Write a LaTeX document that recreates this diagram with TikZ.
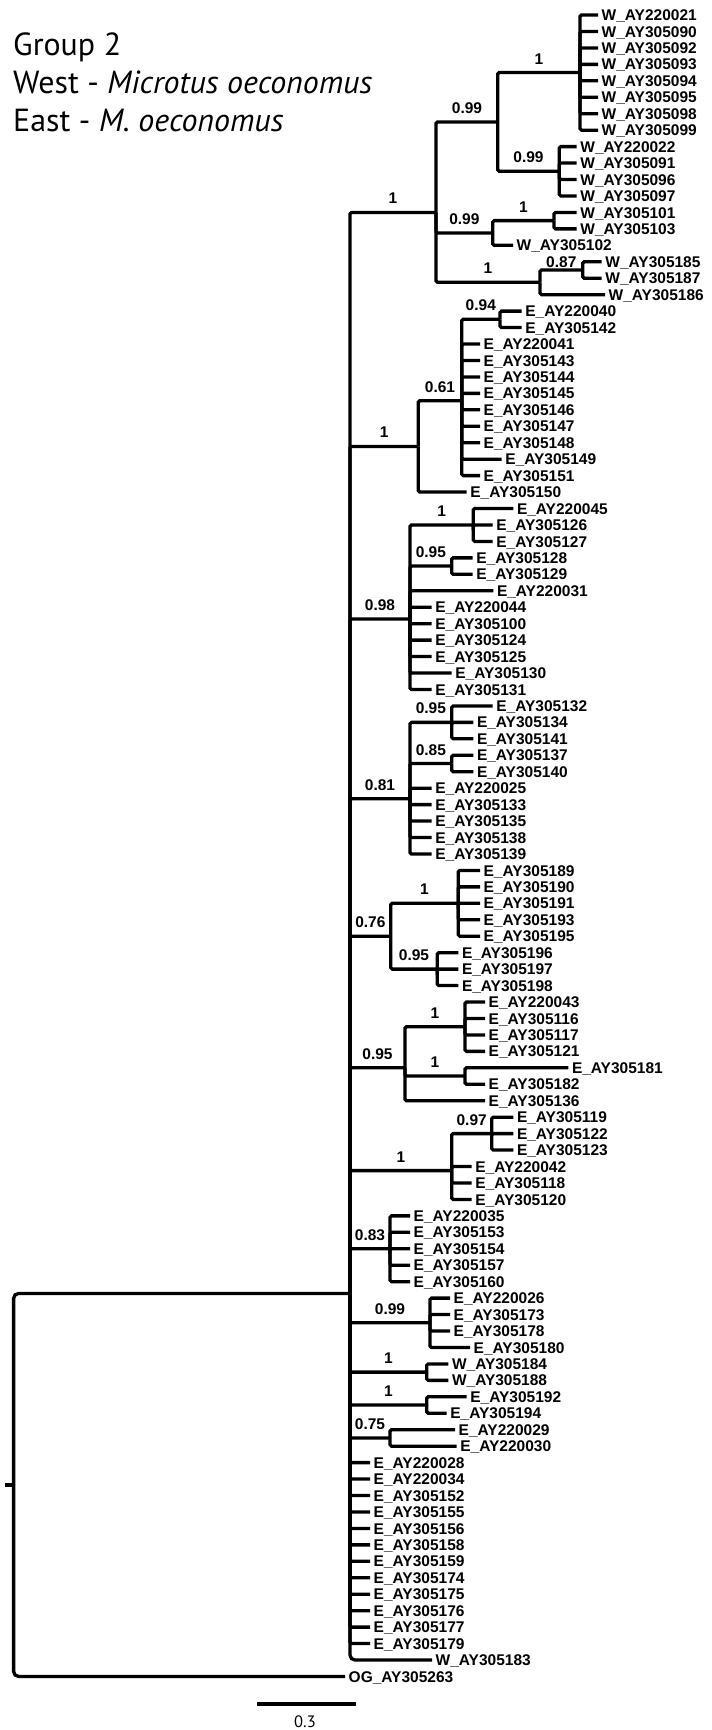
\documentclass[tikz,border=0pt]{standalone}
\usepackage{fontspec}
\newfontfamily\labfont{Liberation Sans}
\newfontfamily\titfont{PT Sans}
\newlength\twid
\tikzset{
 br/.style={line width=3.3pt, rounded corners=1.5pt},
 leaf/.style={anchor=west, inner xsep=3.5pt, inner ysep=0pt, text height=11.2pt, text depth=0pt, font=\labfont\bfseries\fontsize{15.5}{15.5}\selectfont},
 sup/.style={inner sep=0pt, text height=11pt, text depth=0pt, font=\labfont\bfseries\fontsize{15.5}{15.5}\selectfont},
 ttl/.style={anchor=base west, inner sep=0pt, font=\titfont\fontsize{\tfs}{\tfs}\selectfont},
}
\newcommand\Yl[1]{15+(#1-1)*16.45}
\newcommand\Lf[4]{\node[leaf] (#1) at (#2,{\Yl{#3}}) {#4};}
\newcommand\Sup[4]{\node[sup] (#1) at (#2,#3) {#4};}
\begin{document}
\settowidth\twid{\titfont\fontsize{30}{30}\selectfont West - \textit{Microtus oeconomus}}
\pgfmathsetmacro\tfs{30*359/\twid}
\begin{tikzpicture}[x=1pt,y=-1pt]
\useasboundingbox[fill=white] (0,0) rectangle (712,1730);
% title
\node[ttl] (t1) at (13,55) {Group 2};
\node[ttl] (t2) at (13,93) {West - \textit{Microtus oeconomus}};
\node[ttl] (t3) at (13,131) {East - \textit{M. oeconomus}};
% internal nodes
\coordinate (nA) at (580,72.575);
\coordinate (nB) at (559.3,171.275);
\coordinate (nC) at (497.7,121.925);
\coordinate (nE) at (554,220.625);
\coordinate (nD) at (492.7,232.96);
\coordinate (nF) at (582.7,269.975);
\coordinate (nG) at (540,282.31);
\coordinate (nH) at (436,212.4);
\coordinate (nI) at (500,319.325);
\coordinate (nJ) at (461.7,400.75);
\coordinate (nK) at (418.3,446.4);
\coordinate (nL) at (473.3,524.95);
\coordinate (nM) at (451.7,566.075);
\coordinate (nN) at (410,619.08);
\coordinate (nO) at (451.7,722.35);
\coordinate (nP) at (451.7,763.475);
\coordinate (nQ) at (410,798.73);
\coordinate (nR) at (458.3,903.3);
\coordinate (nS) at (437.3,969.1);
\coordinate (nT) at (390.7,936.2);
\coordinate (nU) at (465,1026.675);
\coordinate (nV) at (465,1076.025);
\coordinate (nW) at (405,1067.8);
\coordinate (nX) at (491.7,1133.6);
\coordinate (nY) at (451.7,1170.6);
\coordinate (nZ) at (390,1248.75);
\coordinate (nAD) at (430,1322.8);
\coordinate (nAA) at (426.7,1372.1);
\coordinate (nAB) at (426.7,1405.0);
\coordinate (nAC) at (390,1437.9);
\coordinate (nIn) at (350,1293.4);
\coordinate (root) at (13.6,1484.9);
\coordinate (rstub) at (5,1484.9);
% leaves
\Lf{L1}{598}{1}{W\_AY220021}
\Lf{L2}{598}{2}{W\_AY305090}
\Lf{L3}{598}{3}{W\_AY305092}
\Lf{L4}{598}{4}{W\_AY305093}
\Lf{L5}{598}{5}{W\_AY305094}
\Lf{L6}{598}{6}{W\_AY305095}
\Lf{L7}{598}{7}{W\_AY305098}
\Lf{L8}{598}{8}{W\_AY305099}
\Lf{L9}{576.7}{9}{W\_AY220022}
\Lf{L10}{576.7}{10}{W\_AY305091}
\Lf{L11}{576.7}{11}{W\_AY305096}
\Lf{L12}{576.7}{12}{W\_AY305097}
\Lf{L13}{576.7}{13}{W\_AY305101}
\Lf{L14}{576.7}{14}{W\_AY305103}
\Lf{L15}{513}{15}{W\_AY305102}
\Lf{L16}{601.7}{16}{W\_AY305185}
\Lf{L17}{601.7}{17}{W\_AY305187}
\Lf{L18}{605}{18}{W\_AY305186}
\Lf{L19}{521.7}{19}{E\_AY220040}
\Lf{L20}{521.7}{20}{E\_AY305142}
\Lf{L21}{480}{21}{E\_AY220041}
\Lf{L22}{480}{22}{E\_AY305143}
\Lf{L23}{480}{23}{E\_AY305144}
\Lf{L24}{480}{24}{E\_AY305145}
\Lf{L25}{480}{25}{E\_AY305146}
\Lf{L26}{480}{26}{E\_AY305147}
\Lf{L27}{480}{27}{E\_AY305148}
\Lf{L28}{501.7}{28}{E\_AY305149}
\Lf{L29}{480}{29}{E\_AY305151}
\Lf{L30}{466.7}{30}{E\_AY305150}
\Lf{L31}{513.3}{31}{E\_AY220045}
\Lf{L32}{492.7}{32}{E\_AY305126}
\Lf{L33}{492.7}{33}{E\_AY305127}
\Lf{L34}{472.7}{34}{E\_AY305128}
\Lf{L35}{472.7}{35}{E\_AY305129}
\Lf{L36}{493.3}{36}{E\_AY220031}
\Lf{L37}{431.7}{37}{E\_AY220044}
\Lf{L38}{431.7}{38}{E\_AY305100}
\Lf{L39}{431.7}{39}{E\_AY305124}
\Lf{L40}{431.7}{40}{E\_AY305125}
\Lf{L41}{451.7}{41}{E\_AY305130}
\Lf{L42}{431.7}{42}{E\_AY305131}
\Lf{L43}{492.7}{43}{E\_AY305132}
\Lf{L44}{473.3}{44}{E\_AY305134}
\Lf{L45}{473.3}{45}{E\_AY305141}
\Lf{L46}{473.3}{46}{E\_AY305137}
\Lf{L47}{473.3}{47}{E\_AY305140}
\Lf{L48}{431.7}{48}{E\_AY220025}
\Lf{L49}{431.7}{49}{E\_AY305133}
\Lf{L50}{431.7}{50}{E\_AY305135}
\Lf{L51}{431.7}{51}{E\_AY305138}
\Lf{L52}{431.7}{52}{E\_AY305139}
\Lf{L53}{480}{53}{E\_AY305189}
\Lf{L54}{480}{54}{E\_AY305190}
\Lf{L55}{480}{55}{E\_AY305191}
\Lf{L56}{480}{56}{E\_AY305193}
\Lf{L57}{480}{57}{E\_AY305195}
\Lf{L58}{458.3}{58}{E\_AY305196}
\Lf{L59}{458.3}{59}{E\_AY305197}
\Lf{L60}{458.3}{60}{E\_AY305198}
\Lf{L61}{485}{61}{E\_AY220043}
\Lf{L62}{485}{62}{E\_AY305116}
\Lf{L63}{485}{63}{E\_AY305117}
\Lf{L64}{485}{64}{E\_AY305121}
\Lf{L65}{568.3}{65}{E\_AY305181}
\Lf{L66}{485}{66}{E\_AY305182}
\Lf{L67}{485}{67}{E\_AY305136}
\Lf{L68}{513.3}{68}{E\_AY305119}
\Lf{L69}{513.3}{69}{E\_AY305122}
\Lf{L70}{513.3}{70}{E\_AY305123}
\Lf{L71}{471.7}{71}{E\_AY220042}
\Lf{L72}{471.7}{72}{E\_AY305118}
\Lf{L73}{471.7}{73}{E\_AY305120}
\Lf{L74}{410}{74}{E\_AY220035}
\Lf{L75}{410}{75}{E\_AY305153}
\Lf{L76}{410}{76}{E\_AY305154}
\Lf{L77}{410}{77}{E\_AY305157}
\Lf{L78}{410}{78}{E\_AY305160}
\Lf{L79}{450}{79}{E\_AY220026}
\Lf{L80}{450}{80}{E\_AY305173}
\Lf{L81}{450}{81}{E\_AY305178}
\Lf{L82}{470}{82}{E\_AY305180}
\Lf{L83}{448.3}{83}{W\_AY305184}
\Lf{L84}{448.3}{84}{W\_AY305188}
\Lf{L85}{466.7}{85}{E\_AY305192}
\Lf{L86}{446.7}{86}{E\_AY305194}
\Lf{L87}{455}{87}{E\_AY220029}
\Lf{L88}{456.7}{88}{E\_AY220030}
\Lf{L89}{370}{89}{E\_AY220028}
\Lf{L90}{370}{90}{E\_AY220034}
\Lf{L91}{370}{91}{E\_AY305152}
\Lf{L92}{370}{92}{E\_AY305155}
\Lf{L93}{370}{93}{E\_AY305156}
\Lf{L94}{370}{94}{E\_AY305158}
\Lf{L95}{370}{95}{E\_AY305159}
\Lf{L96}{370}{96}{E\_AY305174}
\Lf{L97}{370}{97}{E\_AY305175}
\Lf{L98}{370}{98}{E\_AY305176}
\Lf{L99}{370}{99}{E\_AY305177}
\Lf{L100}{370}{100}{E\_AY305179}
\Lf{L101}{432}{101}{W\_AY305183}
\Lf{L102}{345}{102}{OG\_AY305263}
% branches to leaves
\foreach \i in {1,...,8} {\draw[br] (nA) |- (L\i.west);}
\foreach \i in {9,...,12} {\draw[br] (nB) |- (L\i.west);}
\foreach \i in {13,14} {\draw[br] (nE) |- (L\i.west);}
\draw[br] (nD) |- (L15.west);
\foreach \i in {16,17} {\draw[br] (nF) |- (L\i.west);}
\draw[br] (nG) |- (L18.west);
\foreach \i in {19,20} {\draw[br] (nI) |- (L\i.west);}
\foreach \i in {21,...,29} {\draw[br] (nJ) |- (L\i.west);}
\draw[br] (nK) |- (L30.west);
\foreach \i in {31,32,33} {\draw[br] (nL) |- (L\i.west);}
\foreach \i in {34,35} {\draw[br] (nM) |- (L\i.west);}
\foreach \i in {36,...,42} {\draw[br] (nN) |- (L\i.west);}
\foreach \i in {43,44,45} {\draw[br] (nO) |- (L\i.west);}
\foreach \i in {46,47} {\draw[br] (nP) |- (L\i.west);}
\foreach \i in {48,...,52} {\draw[br] (nQ) |- (L\i.west);}
\foreach \i in {53,...,57} {\draw[br] (nR) |- (L\i.west);}
\foreach \i in {58,59,60} {\draw[br] (nS) |- (L\i.west);}
\foreach \i in {61,...,64} {\draw[br] (nU) |- (L\i.west);}
\foreach \i in {65,66} {\draw[br] (nV) |- (L\i.west);}
\draw[br] (nW) |- (L67.west);
\foreach \i in {68,69,70} {\draw[br] (nX) |- (L\i.west);}
\foreach \i in {71,72,73} {\draw[br] (nY) |- (L\i.west);}
\foreach \i in {74,...,78} {\draw[br] (nZ) |- (L\i.west);}
\foreach \i in {79,...,82} {\draw[br] (nAD) |- (L\i.west);}
\foreach \i in {83,84} {\draw[br] (nAA) |- (L\i.west);}
\foreach \i in {85,86} {\draw[br] (nAB) |- (L\i.west);}
\foreach \i in {87,88} {\draw[br] (nAC) |- (L\i.west);}
\foreach \i in {89,...,100} {\draw[br] (nIn) |- (L\i.west);}
\draw[br,rounded corners=5pt] (nIn) |- (L101.west);
% internal branches
\draw[br] (nC) |- (nA);
\draw[br] (nC) |- (nB);
\draw[br] (nH) |- (nC);
\draw[br] (nD) |- (nE);
\draw[br] (nH) |- (nD);
\draw[br] (nG) |- (nF);
\draw[br] (nH) |- (nG);
\draw[br] (nJ) |- (nI);
\draw[br] (nK) |- (nJ);
\draw[br] (nN) |- (nL);
\draw[br] (nN) |- (nM);
\draw[br] (nQ) |- (nO);
\draw[br] (nQ) |- (nP);
\draw[br] (nT) |- (nR);
\draw[br] (nT) |- (nS);
\draw[br] (nW) |- (nU);
\draw[br] (nW) |- (nV);
\draw[br] (nY) |- (nX);
\foreach \c in {nH,nK,nN,nQ,nT,nW,nY,nZ,nAD,nAA,nAB,nAC} {\draw[br] (nIn) |- (\c);}
% root
\draw[br] (rstub) -- (root);
\draw[br,rounded corners=5pt] (root) |- (nIn);
\draw[br,rounded corners=5pt] (root) |- (L102.west);
% support values
\Sup{sA}{539}{58.6}{1}
\Sup{sC}{467}{108}{0.99}
\Sup{sB}{528.5}{157.3}{0.99}
\Sup{sH}{393}{198.4}{1}
\Sup{sD}{464.4}{219}{0.99}
\Sup{sE}{523.4}{206.6}{1}
\Sup{sG}{488}{268.3}{1}
\Sup{sF}{561.3}{262}{0.87}
\Sup{sI}{480.8}{305.3}{0.94}
\Sup{sJ}{440}{386.75}{0.61}
\Sup{sK}{384.2}{432.4}{1}
\Sup{sL}{441.7}{511}{1}
\Sup{sM}{430.9}{552}{0.95}
\Sup{sN}{380}{605}{0.98}
\Sup{sO}{430.9}{708.3}{0.95}
\Sup{sP}{430.9}{749.5}{0.85}
\Sup{sQ}{380}{784.7}{0.81}
\Sup{sR}{424.5}{889.3}{1}
\Sup{sS}{414}{955.1}{0.95}
\Sup{sT}{370.4}{922.2}{0.76}
\Sup{sU}{435}{1012.7}{1}
\Sup{sV}{435}{1062}{1}
\Sup{sW}{377.5}{1053.8}{0.95}
\Sup{sX}{471.7}{1119.6}{0.97}
\Sup{sY}{400.9}{1156.6}{1}
\Sup{sZ}{370}{1234.75}{0.83}
\Sup{sAD}{390}{1308.8}{0.99}
\Sup{sAA}{388.4}{1358.1}{1}
\Sup{sAB}{388.4}{1391}{1}
\Sup{sAC}{370}{1423.9}{0.75}
% scale bar
\coordinate (sb1) at (257,1704);
\coordinate (sb2) at (356,1704);
\draw[line width=4pt] (sb1) -- (sb2);
\node[inner sep=0pt, font=\titfont\fontsize{16.5}{16.5}\selectfont] (sbl) at (305,1722) {0.3};
\end{tikzpicture}
\end{document}
